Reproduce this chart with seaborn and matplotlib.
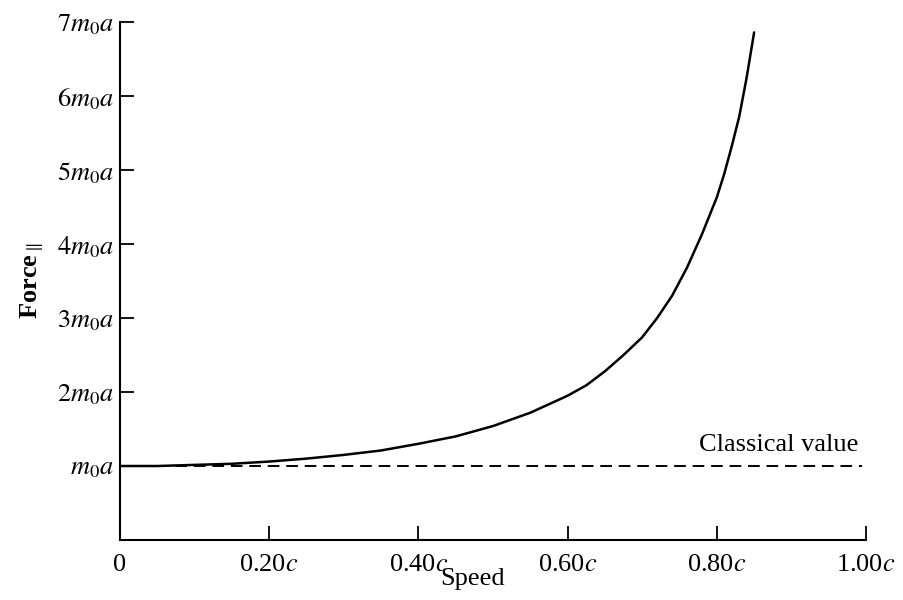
import numpy as np
import pandas as pd
import matplotlib
matplotlib.use("Agg")
import matplotlib.pyplot as plt
import seaborn as sns

# values (speed in units of c, force in units of m0*a)
speed = [0.0, 0.05, 0.10, 0.15, 0.20, 0.25, 0.30, 0.35, 0.40, 0.45, 0.50, 0.55,
         0.60, 0.625, 0.65, 0.675, 0.70, 0.72, 0.74, 0.76, 0.78, 0.80, 0.81,
         0.82, 0.83, 0.84, 0.85]
force = [1.0, 1.0, 1.015, 1.03, 1.06, 1.10, 1.15, 1.21, 1.30, 1.40, 1.54, 1.72,
         1.95, 2.09, 2.28, 2.50, 2.74, 3.00, 3.30, 3.68, 4.13, 4.63, 4.95,
         5.32, 5.72, 6.25, 6.86]
classical_speed = [0.0, 0.995]
classical_force = [1.0, 1.0]

x_ticks = [0, 0.2, 0.4, 0.6, 0.8, 1.0]
x_labels = ['0', '0.20$c$', '0.40$c$', '0.60$c$', '0.80$c$', '1.00$c$']
y_ticks = [1, 2, 3, 4, 5, 6, 7]
y_labels = ['$m_0a$', '$2m_0a$', '$3m_0a$', '$4m_0a$', '$5m_0a$', '$6m_0a$', '$7m_0a$']

sns.set_style("white")
plt.rcParams['font.family'] = ['Liberation Serif', 'DejaVu Serif']
plt.rcParams['mathtext.fontset'] = 'stix'
plt.rcParams['text.color'] = 'black'
plt.rcParams['axes.labelcolor'] = 'black'

df = pd.DataFrame({'speed': speed, 'force': force})
df_cl = pd.DataFrame({'speed': classical_speed, 'force': classical_force})

fig = plt.figure(figsize=(9.04, 6), dpi=100)
ax = fig.add_axes([0.1327, 0.1, 0.958 - 0.1327, 0.9633 - 0.1])

sns.lineplot(data=df, x='speed', y='force', ax=ax, color='black', linewidth=1.8)
sns.lineplot(data=df_cl, x='speed', y='force', ax=ax, color='black',
             linewidth=1.4, linestyle=(0, (6, 3.5)))

ax.set_xlim(0, 1.0)
ax.set_ylim(0, 7)
ax.set_xticks(x_ticks)
ax.set_xticklabels(x_labels, fontsize=19)
ax.set_yticks(y_ticks)
ax.set_yticklabels(y_labels, fontsize=19)
ax.tick_params(axis='both', direction='in', length=10, width=1.3, color='black',
               labelcolor='black', bottom=True, left=True)
ax.tick_params(axis='x', pad=10)
ax.tick_params(axis='y', pad=4)

for s in ['top', 'right']:
    ax.spines[s].set_visible(False)
for s in ['left', 'bottom']:
    ax.spines[s].set_color('black')
    ax.spines[s].set_linewidth(1.5)

ax.set_xlabel('Speed', fontsize=19)
ax.xaxis.set_label_coords(0.472, -0.054)
ax.set_ylabel('Force$_{\\parallel}$', fontsize=19, fontweight='bold', labelpad=8)

ax.text(0.99, 1.13, 'Classical value', fontsize=19, ha='right', va='bottom')

fig.savefig('out.png', dpi=100)
